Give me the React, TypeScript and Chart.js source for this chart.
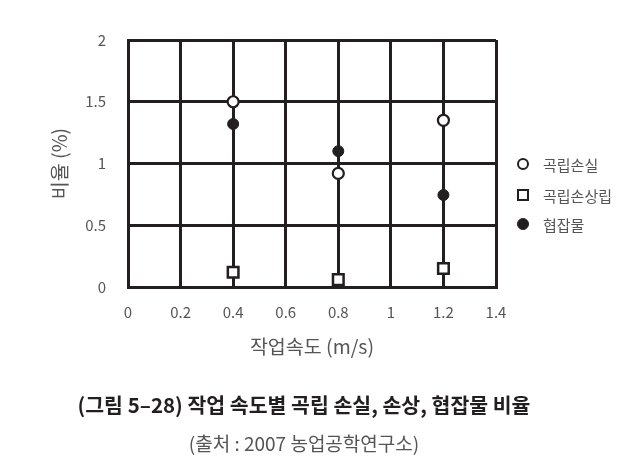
import { Chart, registerables } from 'chart.js'
import { useEffect, useRef } from 'react'

Chart.register(...registerables)

// 작업속도 (m/s)
const speeds = [0.4, 0.8, 1.2]
// 비율 (%)
const grainLoss = [1.5, 0.92, 1.35]
const grainDamage = [0.12, 0.06, 0.15]
const foreignMatter = [1.32, 1.1, 0.745]

const seriesLabels = ['곡립손실', '곡립손상립', '협잡물']

const xTitle = '작업속도 (m/s)'
const yTitle = '비율 (%)'
const caption = '(그림 5–28) 작업 속도별 곡립 손실, 손상, 협잡물 비율'
const source = '(출처 : 2007 농업공학연구소)'

const INK = '#231f20'
const TEXT = '#555555'
const FONT = '"Noto Sans CJK KR", "Noto Sans", sans-serif'

const toPoints = (values: number[]) => values.map((y, i) => ({ x: speeds[i], y }))
// 2.0 -> "2", 1.0 -> "1"
const plainTick = (value: string | number) => String(Number(Number(value).toFixed(2)))

export default function App() {
  const canvasRef = useRef<HTMLCanvasElement | null>(null)

  useEffect(() => {
    const canvas = canvasRef.current
    if (!canvas) {
      return
    }

    const chart = new Chart(canvas, {
      type: 'scatter',
      data: {
        datasets: [
          {
            label: seriesLabels[0],
            data: toPoints(grainLoss),
            pointStyle: 'circle',
            pointRadius: 5.5,
            pointBorderWidth: 2.2,
            pointBackgroundColor: '#ffffff',
            pointBorderColor: INK,
          },
          {
            label: seriesLabels[1],
            data: toPoints(grainDamage),
            pointStyle: 'rect',
            pointRadius: 7.5,
            pointBorderWidth: 2.5,
            pointBackgroundColor: '#ffffff',
            pointBorderColor: INK,
          },
          {
            label: seriesLabels[2],
            data: toPoints(foreignMatter),
            pointStyle: 'circle',
            pointRadius: 5.5,
            pointBorderWidth: 1,
            pointBackgroundColor: INK,
            pointBorderColor: INK,
          },
        ],
      },
      options: {
        animation: false,
        responsive: true,
        maintainAspectRatio: false,
        layout: {
          padding: { left: 0, top: 40, right: 126, bottom: 100 },
        },
        plugins: {
          legend: { display: false },
          tooltip: { enabled: false },
        },
        scales: {
          x: {
            type: 'linear',
            min: 0,
            max: 1.4,
            afterFit: (scale) => {
              scale.height = 80
            },
            ticks: {
              stepSize: 0.2,
              color: TEXT,
              padding: 16,
              font: { family: FONT, size: 15 },
              callback: plainTick,
            },
            title: {
              display: true,
              text: xTitle,
              color: TEXT,
              padding: { top: 0, bottom: 9 },
              font: { family: FONT, size: 19.5 },
            },
            grid: {
              color: INK,
              lineWidth: 3,
              drawTicks: false,
            },
            border: {
              color: INK,
              width: 3,
            },
          },
          y: {
            type: 'linear',
            min: 0,
            max: 2,
            afterFit: (scale) => {
              scale.width = 128
            },
            ticks: {
              stepSize: 0.5,
              color: TEXT,
              padding: 22,
              font: { family: FONT, size: 15 },
              callback: plainTick,
            },
            title: {
              display: true,
              text: yTitle,
              color: TEXT,
              padding: { top: 48, bottom: 0 },
              font: { family: FONT, size: 19.5 },
            },
            grid: {
              color: INK,
              lineWidth: 3,
              drawTicks: false,
            },
            border: {
              color: INK,
              width: 3,
            },
          },
        },
      },
    })

    return () => {
      chart.destroy()
    }
  }, [])

  const legendMarks = [
    { border: `2.5px solid ${INK}`, background: '#fff', radius: '50%', size: 12 },
    { border: `2.5px solid ${INK}`, background: '#fff', radius: '0', size: 12 },
    { border: `1px solid ${INK}`, background: INK, radius: '50%', size: 12 },
  ]
  const legendRows = [164, 195, 224]

  return (
    <div style={{ position: 'absolute', left: 0, top: 0, width: 622, height: 467, background: '#fff', fontFamily: FONT }}>
      <canvas ref={canvasRef} />
      {seriesLabels.map((label, i) => (
        <div
          key={label}
          style={{
            position: 'absolute',
            left: 517,
            top: legendRows[i] - 10,
            height: 20,
            display: 'flex',
            alignItems: 'center',
            color: TEXT,
            fontSize: 15,
            whiteSpace: 'nowrap',
          }}
        >
          <span
            style={{
              display: 'inline-block',
              boxSizing: 'border-box',
              width: legendMarks[i].size,
              height: legendMarks[i].size,
              border: legendMarks[i].border,
              background: legendMarks[i].background,
              borderRadius: legendMarks[i].radius,
              marginRight: 14,
            }}
          />
          {label}
        </div>
      ))}
      <div
        style={{
          position: 'absolute',
          left: 0,
          width: 608,
          top: 391,
          textAlign: 'center',
          fontSize: 20.5,
          fontWeight: 700,
          color: '#231f20',
          lineHeight: '26px',
        }}
      >
        {caption}
      </div>
      <div
        style={{
          position: 'absolute',
          left: 0,
          width: 608,
          top: 430,
          textAlign: 'center',
          fontSize: 19,
          color: TEXT,
          lineHeight: '26px',
        }}
      >
        {source}
      </div>
    </div>
  )
}
